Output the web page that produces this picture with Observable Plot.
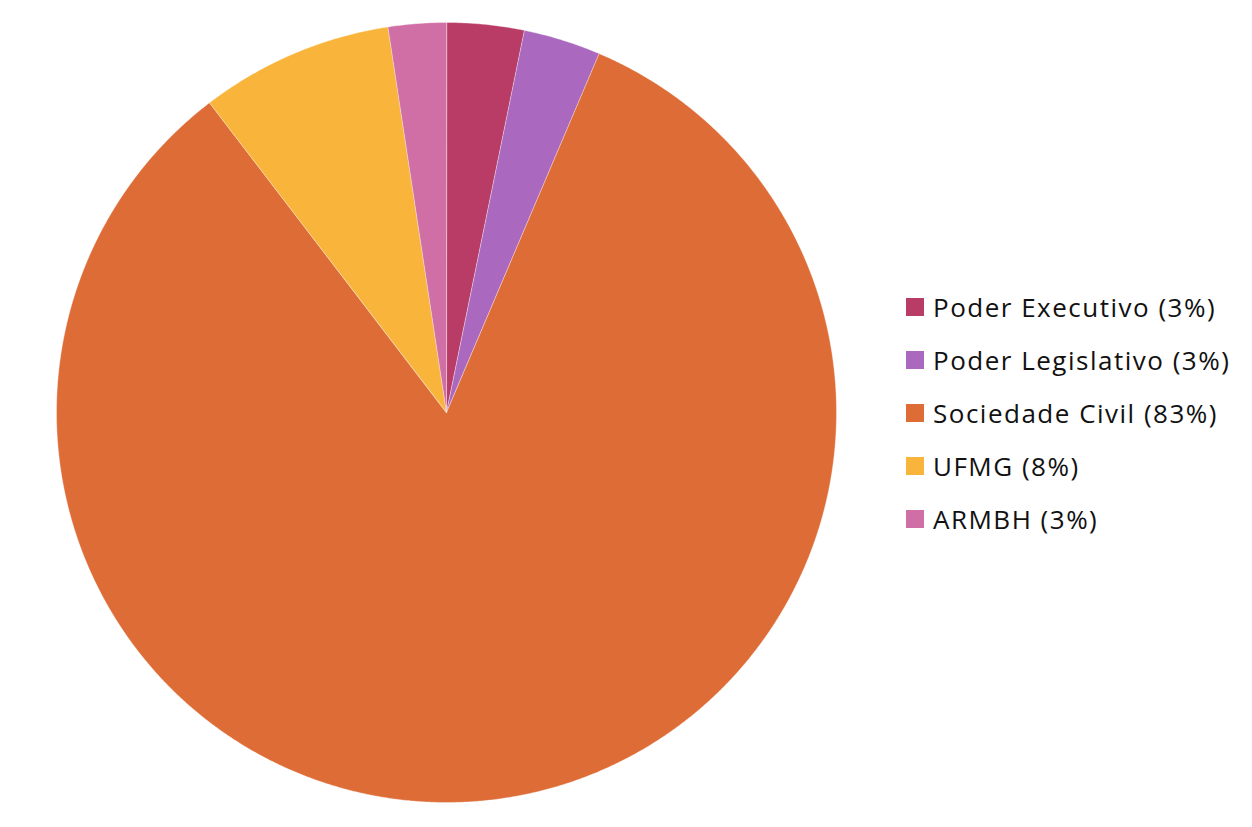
<!DOCTYPE html>
<html>
<head>
<meta charset="utf-8">
<script src="https://cdn.jsdelivr.net/npm/d3@7"></script>
<script src="https://cdn.jsdelivr.net/npm/@observablehq/plot@0.6"></script>
<style>
  html, body { margin: 0; padding: 0; background: #fff; }
  #wrap { position: relative; width: 1252px; height: 827px; overflow: hidden; }
  #chart { position: absolute; left: 0; top: 0; }
  #legend { position: absolute; left: 906px; top: 280px; font-family: "Open Sans", Lato, sans-serif; font-size: 26px; letter-spacing: 1.5px; color: #111; }
  .item { display: flex; align-items: center; height: 53px; }
  .sw { width: 18px; height: 18px; margin-right: 9px; flex: none; }
</style>
</head>
<body>
<div id="wrap"><div id="chart"></div><div id="legend"></div></div>
<script>
const categories = ["Poder Executivo", "Poder Legislativo", "Sociedade Civil", "UFMG", "ARMBH"];
const counts = [4, 4, 104, 10, 3];
const percentLabels = ["3%", "3%", "83%", "8%", "3%"];
const colors = ["#B83C65", "#AA68BE", "#DE6C37", "#F9B53B", "#D06EA6"];

const data = categories.map((c, i) => ({category: c, count: counts[i], pct: percentLabels[i]}));
const arcs = d3.pie().sort(null).value(d => d.count)(data);

// Build polygon features (unit circle, y downward, starting at top, clockwise)
function slicePolygon(a) {
  const pts = [[0, 0]];
  const n = Math.max(4, Math.ceil((a.endAngle - a.startAngle) / 0.005));
  for (let k = 0; k <= n; k++) {
    const t = a.startAngle + (a.endAngle - a.startAngle) * k / n;
    pts.push([Math.sin(t), -Math.cos(t)]);
  }
  pts.push([0, 0]);
  return pts;
}
const features = arcs.map(a => ({
  type: "Feature",
  properties: {category: a.data.category},
  geometry: {type: "Polygon", coordinates: [slicePolygon(a)]}
}));
const domain = {type: "FeatureCollection", features};

const chart = Plot.plot({
  width: 1252,
  height: 827,
  marginLeft: 56,
  marginRight: 416,
  marginTop: 22,
  marginBottom: 25,
  projection: {type: "identity", domain},
  color: {domain: categories, range: colors},
  marks: [
    Plot.geo(features, {fill: d => d.properties.category, stroke: "#fff", strokeWidth: 0.6, strokeOpacity: 0.6})
  ]
});
document.getElementById("chart").appendChild(chart);

const legend = document.getElementById("legend");
data.forEach((d, i) => {
  const row = document.createElement("div");
  row.className = "item";
  const sw = document.createElement("span");
  sw.className = "sw";
  sw.style.background = colors[i];
  const tx = document.createElement("span");
  tx.textContent = `${d.category} (${d.pct})`;
  row.appendChild(sw); row.appendChild(tx);
  legend.appendChild(row);
});
</script>
</body>
</html>
